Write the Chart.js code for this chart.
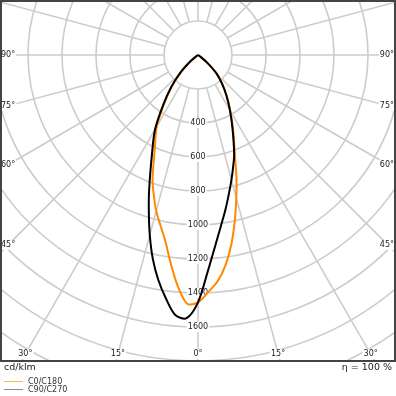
<!DOCTYPE html>
<html>
<head>
<meta charset="utf-8">
<script src="https://cdn.jsdelivr.net/npm/chart.js@4/dist/chart.umd.min.js"></script>
<style>
  html, body { margin: 0; padding: 0; background: #fff; }
  #wrap { width: 396px; height: 396px; }
</style>
</head>
<body>
<div id="wrap"><canvas id="ldc" width="396" height="396"></canvas></div>
<script>
// gamma angles (deg from nadir) and intensities in cd/klm
const gammaDeg = [0, 2.5, 5, 7.5, 10, 12.5, 15, 17.5, 20, 25, 30, 35, 40, 45, 50, 55, 60, 90];
const c0   = [1455, 1395, 1335, 1245, 1130, 1000, 870, 752, 635, 490, 380, 295, 220, 155, 70, 15, 0, 0];
const c180 = [1455, 1465, 1365, 1234, 1110, 1024, 950, 864, 782, 600, 485, 345, 235, 140, 55, 10, 0, 0];
const c90  = [1455, 1280, 1135, 1020, 926, 838, 760, 688, 622, 481, 376, 292, 220, 155, 70, 15, 0, 0];
const c270 = [1455, 1550, 1535, 1445, 1344, 1228, 1096, 962, 840, 640, 505, 355, 245, 145, 60, 10, 0, 0];

// grid
const ringValues = [200, 400, 600, 800, 1000, 1200, 1400, 1600, 1800, 2000, 2200, 2400, 2600];
const ringLabels = [400, 600, 800, 1000, 1200, 1400, 1600];
const spokeDeg = [0, 15, 30, 45, 60, 75, 90, 105, 120, 135, 150, 165, 180, 195, 210, 225, 240, 255, 270, 285, 300, 315, 330, 345];
const angleLabels = [0, 15, 30, 45, 60, 75, 90];

const seriesNames = ['C0/C180', 'C90/C270'];
const seriesColors = ['#ff8800', '#000000'];
const legendColors = ['#ffb35c', '#8c8c8c'];

// polar -> x/y points, left half is C180 / C270, right half is C0 / C90
function toPoints(left, right) {
  const pts = [];
  for (let i = gammaDeg.length - 1; i >= 0; i--) {
    const a = gammaDeg[i] * Math.PI / 180;
    pts.push({ x: -left[i] * Math.sin(a), y: -left[i] * Math.cos(a) });
  }
  for (let i = 1; i < gammaDeg.length; i++) {
    const a = gammaDeg[i] * Math.PI / 180;
    pts.push({ x: right[i] * Math.sin(a), y: -right[i] * Math.cos(a) });
  }
  return pts;
}

const FONT = '"DejaVu Sans", sans-serif';

function labelBox(ctx, text, x, y, align) {
  const w = ctx.measureText(text).width;
  let left = x - w / 2;
  if (align === 'left') left = x;
  if (align === 'right') left = x - w;
  ctx.fillStyle = '#fff';
  ctx.fillRect(left - 1, y - 5, w + 2, 10);
  ctx.fillStyle = '#222';
  ctx.textAlign = align;
  ctx.textBaseline = 'middle';
  ctx.fillText(text, x, y);
}

const polarGrid = {
  id: 'polarGrid',
  beforeDatasetsDraw(chart) {
    const { ctx, chartArea: ca, scales: { x, y } } = chart;
    const cx = x.getPixelForValue(0), cy = y.getPixelForValue(0);
    const px = v => x.getPixelForValue(v) - cx;
    ctx.save();
    ctx.beginPath();
    ctx.rect(ca.left, ca.top, ca.right - ca.left, ca.bottom - ca.top);
    ctx.clip();
    ctx.strokeStyle = '#cccccc';
    ctx.lineWidth = 1.6;
    ringValues.forEach(r => {
      ctx.beginPath();
      ctx.arc(cx, cy, px(r), 0, Math.PI * 2);
      ctx.stroke();
    });
    spokeDeg.forEach(d => {
      const a = d * Math.PI / 180;
      ctx.beginPath();
      ctx.moveTo(x.getPixelForValue(-200 * Math.sin(a)), y.getPixelForValue(-200 * Math.cos(a)));
      ctx.lineTo(x.getPixelForValue(-2800 * Math.sin(a)), y.getPixelForValue(-2800 * Math.cos(a)));
      ctx.stroke();
    });
    ctx.font = '8px ' + FONT;
    ringLabels.forEach(v => labelBox(ctx, String(v), cx, y.getPixelForValue(-v), 'center'));

    // angle labels where the spokes meet the frame
    const inL = ca.left + 7, inR = ca.right - 7, inB = ca.bottom - 7;
    angleLabels.forEach(d => {
      const a = d * Math.PI / 180;
      const s = Math.sin(a), c = Math.cos(a);
      const tb = c > 1e-6 ? (inB - cy) / c : Infinity;
      [-1, 1].forEach(side => {
        if (d === 0 && side === 1) return;
        const ts = s > 1e-6 ? (side < 0 ? (cx - inL) : (inR - cx)) / s : Infinity;
        const t = Math.min(tb, ts);
        let lx = cx + side * t * s, ly = cy + t * c;
        let align = 'center';
        if (ts < tb) {
          align = side < 0 ? 'left' : 'right';
          lx = side < 0 ? ca.left : ca.right - 1;
        }
        labelBox(ctx, d + '°', lx, ly, align);
      });
    });
    ctx.restore();
  },
  afterDraw(chart) {
    const { ctx, chartArea: ca } = chart;
    ctx.save();
    ctx.strokeStyle = '#444';
    ctx.lineWidth = 2;
    ctx.strokeRect(ca.left, ca.top, ca.right - ca.left, ca.bottom - ca.top);

    ctx.fillStyle = '#222';
    ctx.font = '9.5px ' + FONT;
    ctx.textBaseline = 'middle';
    ctx.textAlign = 'left';
    ctx.fillText('cd/klm', 4, 368);
    ctx.textAlign = 'right';
    ctx.fillText('η = 100 %', 392, 368);

    ctx.font = '8px ' + FONT;
    ctx.textAlign = 'left';
    seriesNames.forEach((name, i) => {
      const ly = 381 + i * 8;
      ctx.strokeStyle = legendColors[i];
      ctx.lineWidth = 1;
      ctx.beginPath();
      ctx.moveTo(4, ly + 0.5);
      ctx.lineTo(23, ly + 0.5);
      ctx.stroke();
      ctx.fillStyle = '#333';
      ctx.fillText(name, 28, ly + 0.5);
    });
    ctx.restore();
  }
};

const PX_PER_CD = 0.17;
const plotW = 394, plotH = 360, centerX = 197, centerY = 54;

new Chart(document.getElementById('ldc'), {
  type: 'scatter',
  data: {
    datasets: [
      {
        label: seriesNames[0],
        data: toPoints(c180, c0),
        borderColor: seriesColors[0],
        order: 1
      },
      {
        label: seriesNames[1],
        data: toPoints(c270, c90),
        borderColor: seriesColors[1],
        order: 0
      }
    ]
  },
  options: {
    responsive: false,
    animation: false,
    events: [],
    layout: { padding: { left: 1, top: 1, right: 1, bottom: 35 } },
    elements: {
      line: { borderWidth: 2, tension: 0.3, fill: false },
      point: { radius: 0 }
    },
    showLine: true,
    scales: {
      x: {
        display: false,
        min: -centerX / PX_PER_CD,
        max: (plotW - centerX) / PX_PER_CD
      },
      y: {
        display: false,
        min: -(plotH - centerY) / PX_PER_CD,
        max: centerY / PX_PER_CD
      }
    },
    plugins: {
      legend: { display: false },
      tooltip: { enabled: false }
    }
  },
  plugins: [polarGrid]
});
</script>
</body>
</html>
